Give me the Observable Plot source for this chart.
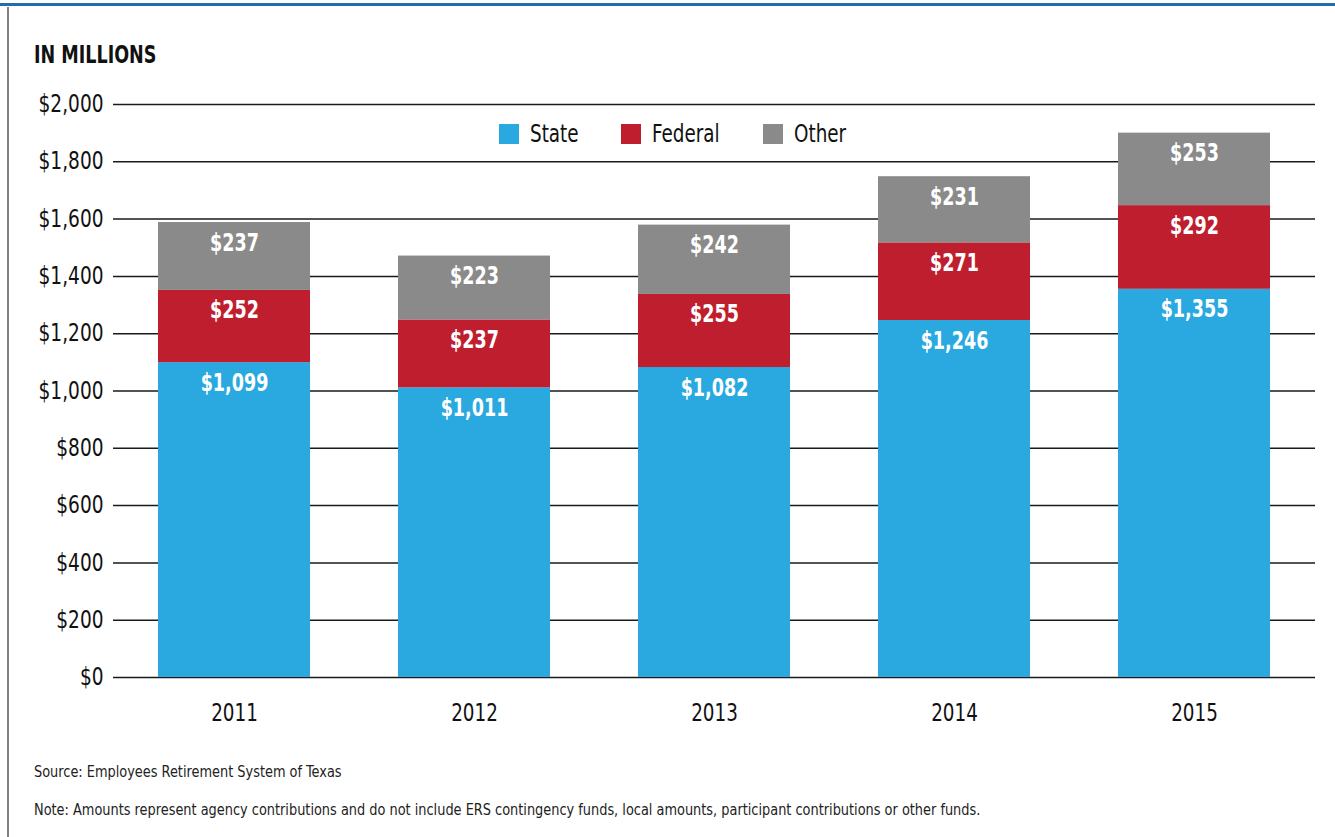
<!DOCTYPE html>
<html>
<head>
<meta charset="utf-8">
<script src="https://cdn.jsdelivr.net/npm/d3@7"></script>
<script src="https://cdn.jsdelivr.net/npm/@observablehq/plot@0.6"></script>
<style>
  html, body { margin: 0; padding: 0; background: #fff; }
  #page { position: relative; width: 1335px; height: 837px; overflow: hidden;
    font-family: "Liberation Sans Narrow", "DejaVu Sans Condensed", "Arial Narrow", sans-serif; color: #111; }
  #topline { position: absolute; left: 0; top: 3px; width: 1335px; height: 3px; background: #1f6fb0; }
  #leftline { position: absolute; left: 7px; top: 7px; width: 2px; height: 830px; background: #808080; }
  #title { position: absolute; left: 34px; top: 40px; font-size: 25px; font-weight: bold; transform: scaleX(0.78); transform-origin: 0 50%; white-space: nowrap; }
  #chart { position: absolute; left: 0; top: 0; }
  .legend { position: absolute; top: 120px; display: flex; align-items: center; font-size: 24px; white-space: nowrap; }
  .legend .lt { display: inline-block; transform: scaleX(0.85); transform-origin: 0 50%; }
  .sw { display: inline-block; width: 20px; height: 20px; margin-right: 11px; }
  .note { position: absolute; left: 34px; font-size: 16.5px; color: #222; white-space: nowrap; transform: scaleX(0.87); transform-origin: 0 50%; }
</style>
</head>
<body>
<div id="page">
  <div id="topline"></div>
  <div id="leftline"></div>
  <div id="chart"></div>
  <div id="title">IN MILLIONS</div>
  <div id="legend"></div>
  <div class="note" style="top:762px">Source: Employees Retirement System of Texas</div>
  <div class="note" style="top:800px">Note: Amounts represent agency contributions and do not include ERS contingency funds, local amounts, participant contributions or other funds.</div>
</div>
<script>
const years = ["2011", "2012", "2013", "2014", "2015"];
const series = ["State", "Federal", "Other"];
const stateValues = [1099, 1011, 1082, 1246, 1355];
const federalValues = [252, 237, 255, 271, 292];
const otherValues = [237, 223, 242, 231, 253];
const colors = ["#29a9e0", "#be1e2d", "#8a8a8a"];
const yTicks = [0, 200, 400, 600, 800, 1000, 1200, 1400, 1600, 1800, 2000];

const valuesBySeries = [stateValues, federalValues, otherValues];
const data = [];
series.forEach((s, si) => {
  years.forEach((yr, i) => data.push({year: yr, series: s, value: valuesBySeries[si][i]}));
});

const fontFamily = '"Liberation Sans Narrow", "DejaVu Sans Condensed", "Arial Narrow", sans-serif';
const fmt = d3.format("$,");

const chart = Plot.plot({
  width: 1335,
  height: 740,
  marginTop: 104,
  marginBottom: 63,
  marginLeft: 113,
  marginRight: 20,
  style: {fontFamily, fontSize: "24px", color: "#111", background: "transparent"},
  x: {domain: years, paddingInner: 0.368, paddingOuter: 0.184, label: null},
  y: {domain: [0, 2000], label: null},
  color: {domain: series, range: colors},
  marks: [
    Plot.ruleY(yTicks, {stroke: "#1a1a1a", strokeWidth: 1.5}),
    Plot.barY(data, {x: "year", y: "value", fill: "series", order: series}),
    Plot.text(data, Plot.stackY2({x: "year", y: "value", z: "series", order: series,
      text: d => fmt(d.value), dy: 20, fill: "white", fontWeight: "bold", fontSize: 25})),
    Plot.axisY({ticks: yTicks, tickSize: 0, tickPadding: 10, tickFormat: fmt, fontSize: 24, label: null}),
    Plot.axisX({tickSize: 0, tickPadding: 26, fontSize: 24, label: null})
  ]
});
document.getElementById("chart").append(chart);

// horizontally condense SVG texts around their anchor to mimic a condensed typeface
function squeeze(selector, s) {
  chart.querySelectorAll(selector).forEach(t => {
    const tr = t.getAttribute("transform") || "";
    const x = +(t.getAttribute("x") || 0);
    const extra = x ? ` translate(${x},0) scale(${s},1) translate(${-x},0)` : ` scale(${s},1)`;
    t.setAttribute("transform", (tr + extra).trim());
  });
}
squeeze('g[aria-label="y-axis tick label"] text', 0.86);
squeeze('g[aria-label="x-axis tick label"] text', 0.85);
squeeze('g[aria-label="text"] text', 0.78);

const legend = document.getElementById("legend");
const legendX = [499, 621, 763];
series.forEach((s, i) => {
  const item = document.createElement("div");
  item.className = "legend";
  item.style.left = legendX[i] + "px";
  item.innerHTML = `<span class="sw" style="background:${colors[i]}"></span><span class="lt">${s}</span>`;
  legend.append(item);
});
</script>
</body>
</html>
